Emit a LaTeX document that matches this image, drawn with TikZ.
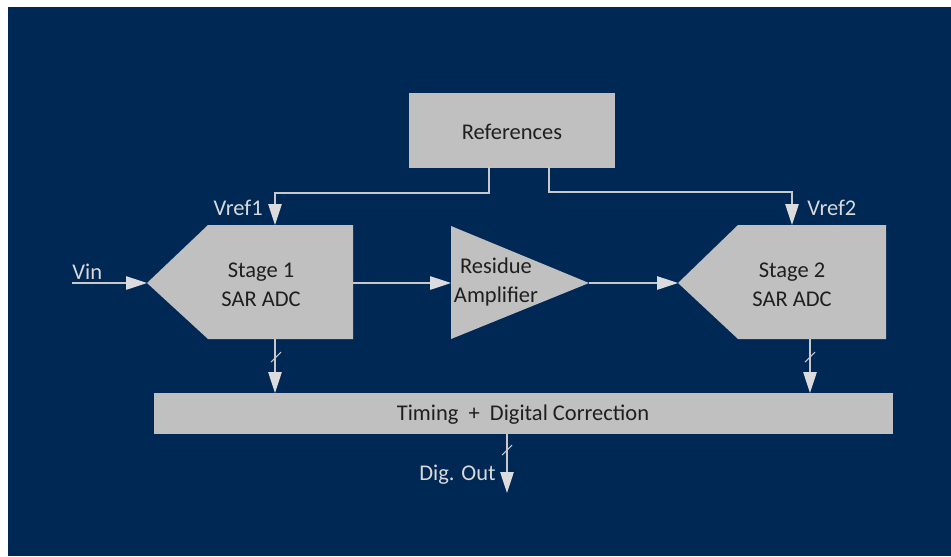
\documentclass[tikz,border=0pt]{standalone}
\usepackage{fontspec}
\setmainfont{Carlito}
\usetikzlibrary{arrows.meta}
\definecolor{navy}{RGB}{0,40,85}
\definecolor{boxgray}{RGB}{192,192,192}
\definecolor{linegray}{RGB}{200,200,205}
\definecolor{tipgray}{RGB}{220,220,222}
\definecolor{labelgray}{RGB}{217,217,217}
\begin{document}
\begin{tikzpicture}[x=0.02cm,y=-0.02cm,
  font=\fontsize{12.8}{16.5}\selectfont,
  box/.style={fill=boxgray, draw=none, text=black!88, inner sep=0pt},
  boxtext/.style={text=black!88, align=center, inner sep=0pt},
  conn/.style={draw=linegray, line width=0.6pt},
  arr/.style={conn, -{Triangle[length=0.42cm,width=0.27cm,fill=tipgray,color=tipgray]}},
  slashmark/.style={draw=linegray, line width=0.6pt},
  lbl/.style={text=labelgray, inner sep=0pt}]

\useasboundingbox (0,0) rectangle (951,556);
\fill[navy] (8,7) rectangle (951,556);

% References box
\node[box, minimum width=4.12cm, minimum height=1.5cm] (ref) at (512,130) {};
\node[boxtext] (reft) at (512,131.5) {References};
\coordinate (refL) at (489,167);
\coordinate (refR) at (549,167);

% Stage 1
\fill[boxgray] (147,283) -- (208,225) -- (353,225) -- (353,339) -- (208,339) -- cycle;
\node[boxtext] (s1) at (261,284.5) {Stage 1\\SAR ADC};
\coordinate (s1in) at (147,283);
\coordinate (s1out) at (353,283);
\coordinate (s1top) at (275,225);
\coordinate (s1bot) at (275,339);

% Residue amplifier
\fill[boxgray] (451,226) -- (589,283) -- (451,339) -- cycle;
\node[boxtext] (amp) at (496,282) {Residue\\Amplifier};
\coordinate (ampin) at (451,283);
\coordinate (ampout) at (589,283);

% Stage 2
\fill[boxgray] (678,283) -- (738,225) -- (886,225) -- (886,339) -- (738,339) -- cycle;
\node[boxtext] (s2) at (792,284.5) {Stage 2\\SAR ADC};
\coordinate (s2in) at (678,283);
\coordinate (s2top) at (792,225);
\coordinate (s2bot) at (810,339);

% Timing bar
\node[box, minimum width=14.78cm, minimum height=0.82cm] (tim) at (523.5,413.5) {};
\node[boxtext] (timt) at (523,415) {Timing\ \ +\ \ Digital Correction};
\coordinate (t1) at (275,393);
\coordinate (t2) at (810,393);
\coordinate (tout) at (507,434);
\coordinate (dout) at (507,493);

% Input
\coordinate (vin) at (72,283);
\node[lbl, anchor=west] (vinl) at (72,272) {Vin};

% Labels
\node[lbl, anchor=east] (vr1) at (263,208) {Vref1};
\node[lbl, anchor=west] (vr2) at (807,208) {Vref2};
\node[lbl, anchor=east] (dol) at (496,475) {Dig. Out};

% Connectors
\draw[arr] (refL) -- ++(0,26) -| (s1top);
\draw[arr] (refR) -- ++(0,25) -| (s2top);
\draw[arr] (vin) -- (s1in);
\draw[arr] (s1out) -- (ampin);
\draw[arr] (ampout) -- (s2in);
\draw[arr] (s1bot) -- (t1);
\draw[arr] (s2bot) -- (t2);
\draw[arr] (tout) -- (dout);

% Bus slash marks
\draw[slashmark] (271,362) -- (281,352);
\draw[slashmark] (805,362) -- (815,352);
\draw[slashmark] (502,455) -- (512,445);
\end{tikzpicture}
\end{document}
